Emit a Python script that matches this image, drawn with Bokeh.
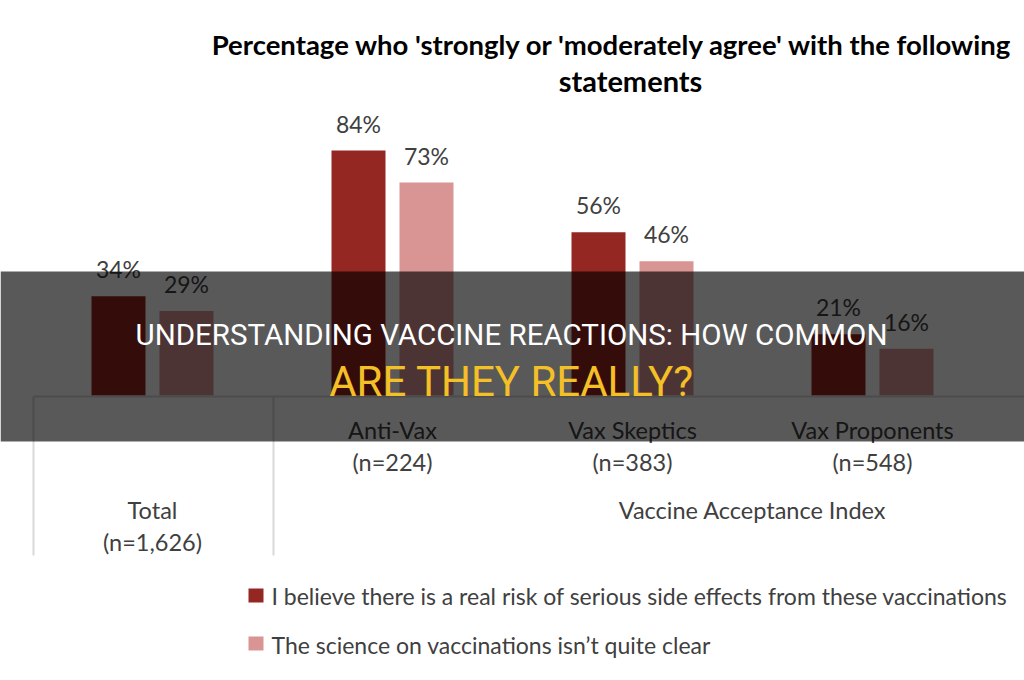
from bokeh.plotting import figure
from bokeh.models import FactorRange, Range1d, ColumnDataSource
from bokeh.transform import dodge
from bokeh.core.properties import value
from bokeh.embed import file_html
from bokeh.resources import INLINE

# ---------------- data ----------------
categories = ["Total", "Anti-Vax", "Vax Skeptics", "Vax Proponents"]
sample_sizes = ["(n=1,626)", "(n=224)", "(n=383)", "(n=548)"]
risk_side_effects = [34, 84, 56, 21]
science_unclear = [29, 73, 46, 16]
series_names = [
    "I believe there is a real risk of serious side effects from these vaccinations",
    "The science on vaccinations isn\u2019t quite clear",
]
series_colors = ["#952722", "#d99594"]
title_lines = ["Percentage who 'strongly or 'moderately agree' with the following", "statements"]
group_label = "Vaccine Acceptance Index"
banner_lines = ["UNDERSTANDING VACCINE REACTIONS: HOW COMMON", "ARE THEY REALLY?"]

# ---------------- layout constants (pixels) ----------------
W, H = 1024, 680
BASE_PX = 395.0            # pixel row of the 0 % baseline
PX_PER_PCT = 245.0 / 84.0  # vertical scale
CAT_PX = 240.0             # width of one category
LEFT_PX = 32.0             # left edge of first category
BAR_W = 54.0 / CAT_PX
OFF = 34.0 / CAT_PX


def sx(px):
    """pixel column -> synthetic categorical coordinate"""
    return (px - LEFT_PX) / CAT_PX


def sxl(pxs):
    return [sx(v) for v in pxs]


y_start = -(H - BASE_PX) / PX_PER_PCT
y_end = BASE_PX / PX_PER_PCT

x_range = FactorRange(*categories, range_padding=LEFT_PX / CAT_PX,
                      range_padding_units="absolute")

p = figure(width=W, height=H, x_range=x_range, y_range=Range1d(y_start, y_end),
           output_backend="svg", toolbar_location=None, min_border=0,
           x_axis_location=None, y_axis_location=None,
           outline_line_color=None, background_fill_color="white",
           border_fill_color="white")
p.grid.visible = False
p.extra_y_ranges = {"px": Range1d(H, 0)}

FONT = value("Lato")
TXT = "#404040"

src = ColumnDataSource(dict(
    cat=categories,
    a=risk_side_effects,
    b=science_unclear,
    al=[f"{v}%" for v in risk_side_effects],
    bl=[f"{v}%" for v in science_unclear],
))

# bars
p.vbar(x=dodge("cat", -OFF, range=p.x_range), top="a", bottom=0, width=BAR_W,
       source=src, fill_color=series_colors[0], line_color=None)
p.vbar(x=dodge("cat", OFF, range=p.x_range), top="b", bottom=0, width=BAR_W,
       source=src, fill_color=series_colors[1], line_color=None)

# value labels
for col, lab, off in (("a", "al", -OFF), ("b", "bl", OFF)):
    p.text(x=dodge("cat", off, range=p.x_range), y=col, text=lab, source=src,
           text_align="center", text_baseline="middle", y_offset=-27,
           text_font=FONT, text_font_size="23px", text_color=TXT)

# table lines
p.segment(x0=sxl([33, 33, 273]), y0=[396, 396, 396], x1=sxl([W, 33, 273]), y1=[396, 555, 555],
          y_range_name="px", line_color="#d9d9d9", line_width=2)

# category labels
p.text(x=categories[1:], y=[429] * 3, text=categories[1:], y_range_name="px",
       text_align="center", text_baseline="middle", text_font=FONT,
       text_font_size="23.5px", text_color=TXT)
p.text(x=categories[1:], y=[461] * 3, text=sample_sizes[1:], y_range_name="px",
       text_align="center", text_baseline="middle", text_font=FONT,
       text_font_size="23.5px", text_color=TXT)
p.text(x=categories[:1], y=[509], text=categories[:1], y_range_name="px",
       text_align="center", text_baseline="middle", text_font=FONT,
       text_font_size="23.5px", text_color=TXT)
p.text(x=categories[:1], y=[541], text=sample_sizes[:1], y_range_name="px",
       text_align="center", text_baseline="middle", text_font=FONT,
       text_font_size="23.5px", text_color=TXT)
p.text(x=sxl([752]), y=[509], text=[group_label], y_range_name="px",
       text_align="center", text_baseline="middle", text_font=FONT,
       text_font_size="23.5px", text_color=TXT)

# title
p.text(x=sxl([612]), y=[44], text=title_lines[:1], y_range_name="px",
       text_align="center", text_baseline="middle", text_font=FONT,
       text_font_style="bold", text_font_size="27.5px", text_color="#000000")
p.text(x=sxl([630]), y=[80], text=title_lines[1:], y_range_name="px",
       text_align="center", text_baseline="middle", text_font=FONT,
       text_font_style="bold", text_font_size="29px", text_color="#000000")

# legend
p.quad(left=sxl([248, 248]), right=sxl([263, 263]), top=[588, 636], bottom=[602, 650],
       y_range_name="px", fill_color=series_colors, line_color=None)
p.text(x=sxl([271, 271]), y=[595, 644], text=series_names, y_range_name="px",
       text_align="left", text_baseline="middle", text_font=FONT,
       text_font_size="23px", text_color=TXT)

# banner overlay
p.quad(left=sxl([0]), right=sxl([W]), top=[271], bottom=[441], y_range_name="px",
       fill_color="black", fill_alpha=0.65, line_color=None)
p.text(x=sxl([511]), y=[334], text=banner_lines[:1], y_range_name="px",
       text_align="center", text_baseline="middle", text_font=value("Roboto"),
       text_font_size="29.5px", text_color="white")
p.text(x=sxl([511]), y=[381], text=banner_lines[1:], y_range_name="px",
       text_align="center", text_baseline="middle", text_font=value("Roboto"),
       text_font_size="42px", text_color="#f5c026")

open("out.html", "w").write(file_html(p, INLINE))
